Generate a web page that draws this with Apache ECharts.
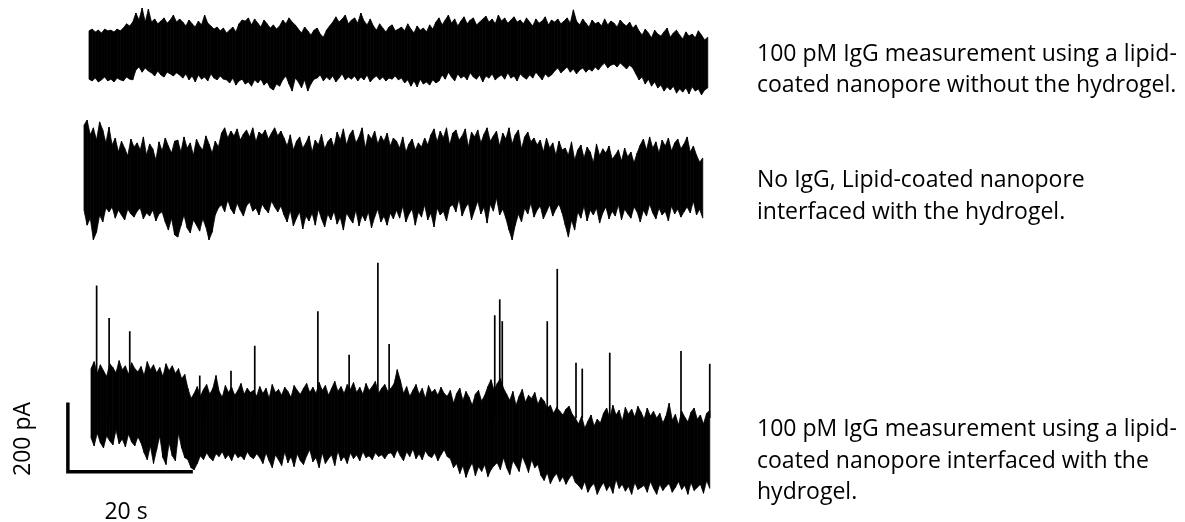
<!DOCTYPE html>
<html>
<head>
<meta charset="utf-8">
<script src="https://cdn.jsdelivr.net/npm/echarts/dist/echarts.min.js"></script>
<style>
  html, body { margin: 0; padding: 0; background: #fff; }
  #chart { width: 1185px; height: 522px; }
</style>
</head>
<body>
<div id="chart"></div>
<script>
// Current traces, min/max envelope per 0.5 s bin (pA, relative to each trace's mean level)
const BIN_SECONDS = 0.5;

// 100 pM IgG, lipid-coated nanopore without hydrogel
const noGelHigh = [
  69,74,66,71,63,74,69,71,66,74,69,
  77,89,83,94,
  120,100,134,94,131,
  94,103,89,97,106,91,
  100,114,94,103,
  94,83,100,89,80,97,86,114,91,
  83,74,80,
  69,77,63,71,80,66,
  89,100,
  97,106,86,103,91,80,100,89,
  77,86,74,83,
  100,89,106,94,86,
  74,63,80,69,57,71,77,60,51,71,
  83,94,
  109,94,103,114,89,100,106,91,
  120,97,86,103,
  83,71,89,77,66,80,86,69,74,
  80,69,89,74,63,83,71,77,66,86,74,
  94,106,86,100,114,91,103,83,97,109,89,100,106,86,94,103,
  111,94,103,89,114,97,106,91,100,109,94,
  100,89,106,94,83,103,91,97,109,86,100,94,103,89,97,106,91,129,
  97,86,103,91,80,100,89,94,83,103,86,97,91,80,100,89,83,94,77,86,
  69,57,74,63,49,71,60,54,66,77,51,63,71,57,46,66,54,60,49,69,57,43,51
];
const noGelLow = [
  -69,-74,-66,-77,-71,-63,-74,-69,-77,-66,-71,-74,-63,-69,-71,
  -43,-34,-49,-37,-46,
  -51,-60,-46,-57,-63,-49,-54,-60,-51,-57,
  -66,-54,-71,-60,-77,-57,-69,-63,-74,-54,-66,-71,-60,-69,
  -71,-80,-66,-86,-74,-69,-83,-77,-89,-71,-80,-69,-86,-77,
  -94,-100,-83,-89,
  -71,-60,-83,-103,-66,-77,-94,-71,-103,-83,-69,
  -66,-57,-74,-63,-71,-60,-77,-66,-54,-71,-63,
  -69,-60,-74,-63,-71,-57,-77,-66,-60,-71,-63,-74,-66,-69,-60,-71,
  -66,-80,-71,-89,-74,-91,-69,-83,-77,-86,-71,-80,-74,
  -57,-69,-49,-63,-74,-54,-66,-60,-71,-51,-63,-69,-57,-77,-60,-66,-54,-71,-63,-57,-69,-51,-66,-60,-74,-54,-63,-69,-57,-66,-49,-60,-71,-54,-63,-57,
  -46,-37,-51,-43,-34,-49,-40,-54,-43,-37,-49,-40,-46,-34,-43,
  -31,-23,-37,-29,-26,-34,-23,-31,-40,-29,-37,
  -54,-71,-63,-83,-69,-89,-77,
  -94,-86,-103,-91,-100,-89,-109,-97,-106,-94,-111,-91,-103,-97,-114,-100,-94
];

// No IgG, lipid-coated nanopore with hydrogel
const blankHigh = [
  157,171,129,149,114,166,143,106,151,
  100,120,80,111,91,69,117,94,106,86,123,71,103,89,57,109,83,120,97,77,111,
  114,80,123,91,106,71,117,97,86,126,103,77,111,94,
  134,149,120,140,126,146,114,131,143,123,149,109,137,129,143,117,134,149,126,140,
  120,97,129,86,111,123,91,106,126,80,114,100,131,89,109,120,94,
  137,114,146,100,129,143,106,123,149,91,131,117,140,103,126,111,134,97,120,
  111,91,123,80,103,117,86,106,94,120,100,
  129,146,109,140,120,149,100,134,143,114,126,146,94,137,123,143,106,131,149,111,126,140,97,134,117,149,103,129,143,89,123,137,109,120,
  100,114,80,120,91,106,71,111,86,
  91,71,109,57,86,100,63,94,80,49,103,69,89,77,97,60,
  71,86,54,91,66,80,49,77,
  100,117,86,123,91,109,77,114,97,120,83,106,117,89,103,123,80,97,
  71,51,63
];
const blankLow = [
  -86,-129,-109,-171,-149,-100,-120,-80,
  -91,-77,-109,-86,-100,-114,-83,-97,-106,-89,-80,-111,-94,-103,-86,-117,-97,-91,
  -120,-143,-109,-157,-163,-131,-100,-137,-151,-114,-129,-146,-111,-134,-171,-149,
  -100,-80,
  -71,-91,-57,-83,-97,-66,-86,-103,-74,-63,-89,-80,-100,-69,-83,-94,-60,-77,-91,-74,
  -100,-120,-86,-131,-109,-91,-140,-103,-117,-94,-129,-83,-111,-134,-97,-114,-89,-126,-106,-143,-94,-109,-123,-86,-131,-100,-117,-91,-137,-106,-83,-120,-103,-129,-94,-111,
  -86,-109,-74,-120,-97,-83,-129,-91,-106,-71,-114,-94,-134,-80,-100,-89,-117,-77,
  -71,-91,-54,-103,-80,-66,-114,-86,-60,-97,-77,-123,-69,-89,-51,-100,-83,
  -109,-143,-171,-129,-97,-120,
  -80,-97,-66,-106,-86,-74,-111,-91,-71,-103,-83,-69,-94,
  -129,-163,-114,-143,
  -91,-109,-74,-117,-86,-100,-80,-123,-94,-77,-111,-89,-103,-71,-114,-83,-97,-109,-77,-91,-120,-86,-103,-69,-94,-111,-80,-100,-89,-117,-74,-97,-83,-106,-91,
  -77,-94,-60,-100,-83,-109
];

// 100 pM IgG, lipid-coated nanopore with hydrogel
const gelHigh = [
  143,163,129,154,137,120,157,146,131,166,140,151,126,160,143,134,149,123,163,140,154,131,146,120,157,137,151,129,143,114,126,
  86,57,
  71,91,63,83,97,69,86,123,77,60,94,74,89,66,80,100,69,86,74,
  80,63,91,71,86,57,97,74,83,66,89,77,60,94,80,69,86,100,74,
  89,71,103,80,94,66,86,106,77,91,71,97,83,103,74,89,69,100,80,91,106,71,86,97,77,
  86,100,140,109,71,91,63,80,97,69,86,57,94,74,83,66,89,71,
  63,80,43,71,86,51,77,60,37,69,80,49,66,
  91,111,80,100,114,86,
  69,51,77,37,63,83,46,66,57,74,40,60,49,
  29,37,14,31,20,9,26,34,11,
  0,-17,6,-29,-9,9,-23,-3,-14,
  14,29,0,37,9,23,-9,31,11,26,3,34,17,-3,29,6,20,
  0,14,-14,6,43,-6,11,-20,20,3,-11,17,29,-3,9,-17,14,23
];
const gelLow = [
  -57,-80,-43,-71,-86,-51,-66,-77,-34,-74,-60,-83,-46,-69,-80,-54,-71,
  -100,-120,-80,-131,-91,-51,-114,-134,-71,-109,-123,-43,-86,-114,
  -120,-143,-149,-131,
  -109,-120,-100,-114,-123,-103,-111,-97,-117,-106,-123,-100,-114,-109,-120,-97,-111,-117,-103,
  -114,-131,-100,-123,-143,-106,-120,-137,-97,-129,-111,-140,-103,-123,-134,-109,-91,-126,-114,-143,-100,-131,-117,-106,-137,-94,-123,-111,-131,-100,-117,-106,-123,-97,-114,-109,-120,-100,-111,-106,-117,-103,
  -100,-114,-91,-109,-123,-97,-111,-89,-117,-103,-120,-94,-109,-114,-100,-123,-106,-91,-111,-117,
  -143,-131,-160,-137,-171,-146,-129,-166,-140,-154,-134,-169,-149,-137,
  -129,-149,-114,-143,-163,-123,-137,-154,-111,-131,-157,-120,-143,-134,
  -166,-180,-157,-189,-171,-160,-183,-169,-191,-174,-163,-186,
  -194,-206,-183,-214,-197,-189,-220,-200,-186,-209,-194,-217,-177,-203,-191,-211,-197,-220,-186,-206,-200,-194,-214,-183,-203,-220,-191,-209,-197,-189,-214,-200,-183,-206,-194,-220,-186,-209,-200,-191,-217,-180,-203
];

// Binding events (time in s, peak current in pA)
const eventTimes = [0.9, 2.9, 6.2, 17.4, 22.4, 26.2, 36.3, 41.3, 45.9, 47.7, 64.6, 65.4, 65.8, 73.0, 74.6, 77.6, 78.6, 83.0, 94.4, 99.0];
const eventPeaks = [383, 289, 251, 123, 137, 209, 309, 183, 449, 214, 297, 343, 280, 280, 431, 160, 143, 189, 194, 157];

// Scale bar
const scaleTime = 20;      // s
const scaleCurrent = 200;  // pA
const scaleLabels = ['20 s', '200 pA'];

const captions = [
  ['100 pM IgG measurement using a lipid-', 'coated nanopore without the hydrogel.'],
  ['No IgG, Lipid-coated nanopore', 'interfaced with the hydrogel.'],
  ['100 pM IgG measurement using a lipid-', 'coated nanopore interfaced with the', 'hydrogel.']
];

const FONT = '23px "Open Sans"';

// One trapezoid per bin, joining this bin's envelope to the next one's
function renderBand(params, api) {
  const i = params.dataIndexInside;
  if (i >= params.dataInsideLength - 1) {
    return { type: 'group', children: [] };
  }
  const t0 = api.value(0, i), t1 = api.value(0, i + 1);
  const points = [
    api.coord([t0, api.value(2, i)]),
    api.coord([t1, api.value(2, i + 1)]),
    api.coord([t1, api.value(1, i + 1)]),
    api.coord([t0, api.value(1, i)])
  ];
  return {
    type: 'polygon',
    shape: { points: points },
    style: { fill: '#000', stroke: '#000', lineWidth: 0.8 }
  };
}

function renderEvent(params, api) {
  const a = api.coord([api.value(0), 0]);
  const b = api.coord([api.value(0), api.value(1)]);
  return {
    type: 'line',
    shape: { x1: a[0], y1: a[1], x2: b[0], y2: b[1] },
    style: { stroke: '#000', lineWidth: 1.7 }
  };
}

const chart = echarts.init(document.getElementById('chart'), null, { renderer: 'canvas' });

const grids = [
  { left: 89, top: 2.5, width: 625, height: 105 },
  { left: 84, top: 127.5, width: 625, height: 105 },
  { left: 66, top: 245, width: 650, height: 280 }
];
const xRanges = [[0, 100], [0, 100], [-4, 100]];
const yRanges = [[-150, 150], [-150, 150], [-300, 500]];

const traceSeries = [[noGelHigh, noGelLow], [blankHigh, blankLow], [gelHigh, gelLow]].map(([high, low], i) => ({
  type: 'custom',
  xAxisIndex: i,
  yAxisIndex: i,
  renderItem: renderBand,
  encode: { x: 0, y: [1, 2] },
  data: high.map((h, k) => [k * BIN_SECONDS, low[k], h]),
  silent: true
}));

const barX = -3.7, barY = -155;

const textEls = [];
const captionY = [[54, 85], [180, 212], [429, 461, 492]];
captions.forEach((lines, g) => {
  lines.forEach((line, j) => {
    textEls.push({
      type: 'text', x: 757, y: captionY[g][j],
      style: { text: line, font: FONT, fill: '#000', align: 'left', verticalAlign: 'middle' }
    });
  });
});
textEls.push({
  type: 'text', x: 126, y: 512,
  style: { text: scaleLabels[0], font: FONT, fill: '#000', align: 'center', verticalAlign: 'middle' }
});
textEls.push({
  type: 'text', x: 23, y: 439, rotation: Math.PI / 2,
  style: { text: scaleLabels[1], font: FONT, fill: '#000', align: 'center', verticalAlign: 'middle' }
});

chart.setOption({
  animation: false,
  backgroundColor: '#fff',
  grid: grids,
  xAxis: xRanges.map((r, i) => ({ type: 'value', gridIndex: i, min: r[0], max: r[1], show: false })),
  yAxis: yRanges.map((r, i) => ({ type: 'value', gridIndex: i, min: r[0], max: r[1], show: false })),
  series: traceSeries.concat([
    {
      type: 'custom',
      xAxisIndex: 2,
      yAxisIndex: 2,
      renderItem: renderEvent,
      encode: { x: 0, y: 1 },
      data: eventTimes.map((t, i) => [t, eventPeaks[i]]),
      silent: true
    },
    {
      type: 'line',
      xAxisIndex: 2,
      yAxisIndex: 2,
      symbol: 'none',
      silent: true,
      lineStyle: { color: '#000', width: 3.5, join: 'miter', cap: 'butt' },
      data: [
        [barX, barY + scaleCurrent],
        [barX, barY],
        [barX + scaleTime, barY]
      ]
    }
  ]),
  graphic: textEls
});
</script>
</body>
</html>
